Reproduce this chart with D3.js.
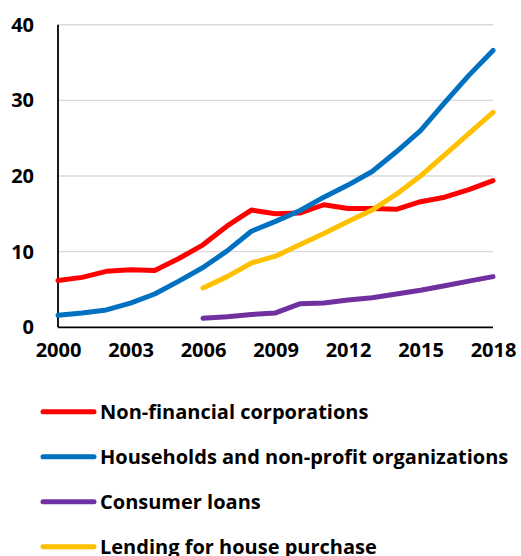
<!DOCTYPE html>
<html>
<head>
<meta charset="utf-8">
<script src="https://cdn.jsdelivr.net/npm/d3@7/dist/d3.min.js"></script>
<style>
  html, body { margin: 0; padding: 0; background: #ffffff; }
  svg { display: block; }
  text { font-family: "Open Sans", Lato, sans-serif; font-weight: 700; fill: #000; }
</style>
</head>
<body>
<div id="chart"></div>
<script>
// Years on the horizontal axis
const years = d3.range(2000, 2019);

// Lending growth series (null where the series has no data)
const nonFinancial = [6.2, 6.6, 7.4, 7.6, 7.5, 9.1, 10.9, 13.4, 15.5, 15.0, 15.1, 16.2, 15.7, 15.7, 15.6, 16.6, 17.2, 18.2, 19.4];
const households   = [1.6, 1.9, 2.3, 3.2, 4.4, 6.1, 7.9, 10.1, 12.7, 14.0, 15.4, 17.2, 18.8, 20.6, 23.2, 26.0, 29.7, 33.3, 36.6];
const consumer     = [null, null, null, null, null, null, 1.2, 1.4, 1.7, 1.9, 3.1, 3.2, 3.6, 3.9, 4.4, 4.9, 5.5, 6.1, 6.7];
const housePurchase = [null, null, null, null, null, null, 5.2, 6.7, 8.5, 9.4, 10.9, 12.4, 14.0, 15.5, 17.6, 20.0, 22.8, 25.6, 28.4];

const seriesNames = ["Non-financial corporations", "Households and non-profit organizations", "Consumer loans", "Lending for house purchase"];
const seriesColors = ["#FF0000", "#0070C0", "#7030A0", "#FFC000"];
const seriesValues = [nonFinancial, households, consumer, housePurchase];

const xTicks = [2000, 2003, 2006, 2009, 2012, 2015, 2018];
const yTicks = [0, 10, 20, 30, 40];

const W = 521, H = 556;
const svg = d3.select("#chart").append("svg").attr("width", W).attr("height", H);

const x = d3.scaleLinear().domain([2000, 2018]).range([58, 493]);
const y = d3.scaleLinear().domain([0, 40]).range([327.3, 24.7]);

// Horizontal gridlines
svg.append("g")
  .selectAll("line")
  .data(yTicks.filter(d => d > 0))
  .join("line")
  .attr("x1", x(2000)).attr("x2", x(2018))
  .attr("y1", d => y(d)).attr("y2", d => y(d))
  .attr("stroke", "#d9d9d9").attr("stroke-width", 1.4);

// Y axis
const yAxis = svg.append("g")
  .attr("transform", `translate(${x(2000)},0)`)
  .call(d3.axisLeft(y).tickValues(yTicks).tickSize(0).tickPadding(24));
yAxis.select(".domain").attr("stroke", "#000").attr("stroke-width", 1.8).attr("d", `M0,${y(0)}V${y(40)}`);
yAxis.selectAll("text").style("font-size", "20px").attr("font-family", null).attr("font-size", null);

// X axis
const xAxis = svg.append("g")
  .attr("transform", `translate(0,${y(0)})`)
  .call(d3.axisBottom(x).tickValues(xTicks).tickFormat(d3.format("d")).tickSize(0).tickPadding(16));
xAxis.select(".domain").attr("stroke", "#000").attr("stroke-width", 1.8).attr("d", `M${x(2000)},0H${x(2018)}`);
xAxis.selectAll("text").style("font-size", "20px").attr("font-family", null).attr("font-size", null);

// Series lines
const line = d3.line()
  .defined(d => d.v != null)
  .x(d => x(d.year))
  .y(d => y(d.v));

seriesValues.forEach((vals, i) => {
  const pts = years.map((yr, j) => ({ year: yr, v: vals[j] }));
  svg.append("path")
    .datum(pts)
    .attr("fill", "none")
    .attr("stroke", seriesColors[i])
    .attr("stroke-width", 5)
    .attr("stroke-linejoin", "round")
    .attr("stroke-linecap", "round")
    .attr("d", line);
});

// Legend
const legend = svg.append("g");
seriesNames.forEach((name, i) => {
  const cy = 411.7 + i * 45;
  legend.append("line")
    .attr("x1", 43).attr("x2", 94)
    .attr("y1", cy).attr("y2", cy)
    .attr("stroke", seriesColors[i]).attr("stroke-width", 5)
    .attr("stroke-linecap", "round");
  legend.append("text")
    .attr("x", 100).attr("y", cy + 7.5)
    .style("font-size", "20px")
    .text(name);
});
</script>
</body>
</html>
